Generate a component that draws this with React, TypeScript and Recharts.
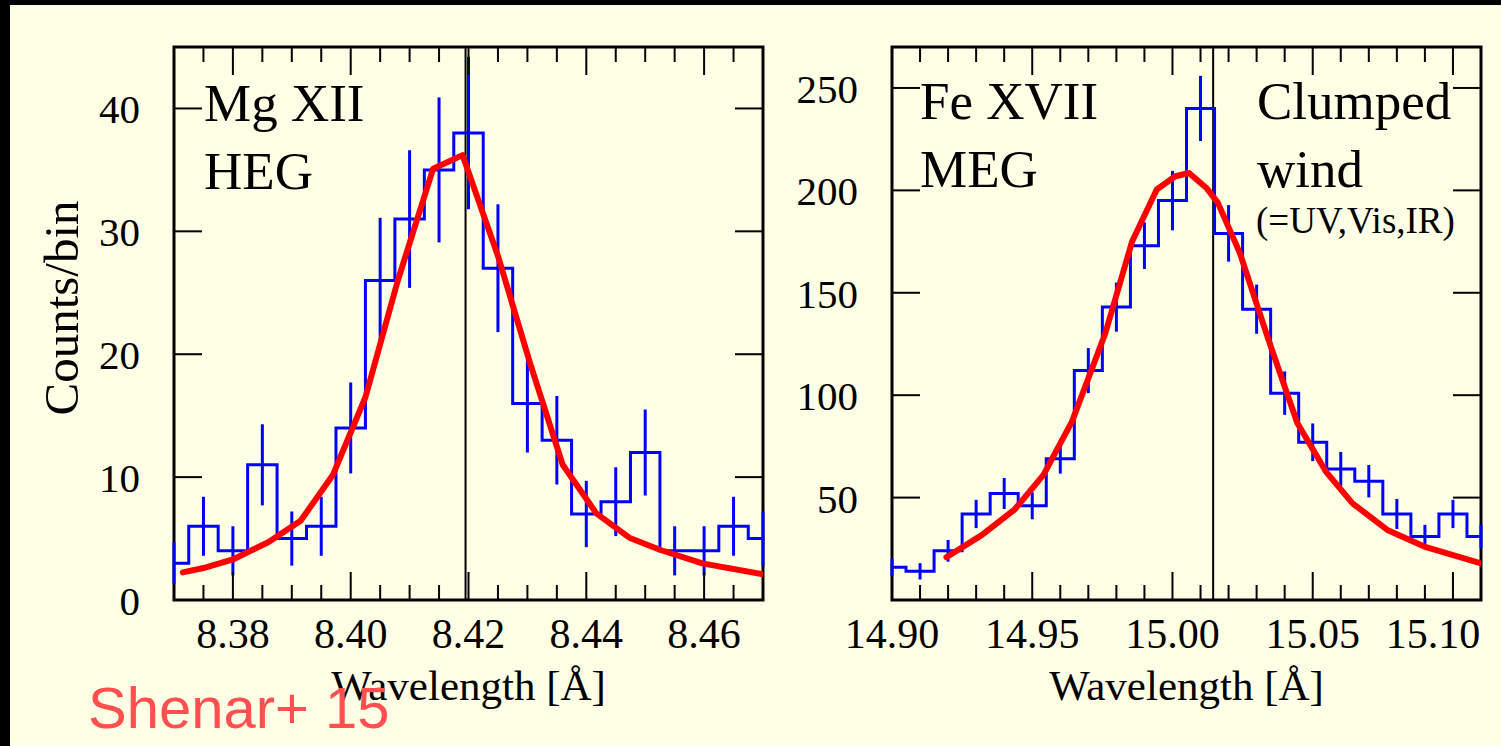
import React from 'react';
import {
  ComposedChart, Line, XAxis, YAxis, ReferenceLine, ReferenceArea, ErrorBar,
} from 'recharts';

const PAGE_W = 1501;
const PAGE_H = 746;
const PLOT_TOP = 47;
const PLOT_BOTTOM = 600;
const SERIF = '"Liberation Serif", "Times New Roman", serif';
const BLUE = '#0000ff';
const RED = '#ff0000';

// Mg XII, HEG: bin centres [Å], counts per bin, 1-sigma errors
const mgWave = [8.370, 8.375, 8.380, 8.385, 8.390, 8.395, 8.400, 8.405, 8.410, 8.415, 8.420,
  8.425, 8.430, 8.435, 8.440, 8.445, 8.450, 8.455, 8.460, 8.465, 8.470];
const mgCounts = [3, 6, 4, 11, 5, 6, 14, 26, 31, 35, 38, 27, 16, 13, 7, 8, 12, 4, 4, 6, 5];
const mgErr = [1.7, 2.4, 2.0, 3.3, 2.2, 2.4, 3.7, 5.1, 5.6, 5.9, 6.2, 5.2, 4.0, 3.6, 2.7, 2.8, 3.5, 2.0, 2.0, 2.4, 2.2];
// clumped wind model
const mgModelWave = [8.3715, 8.375, 8.380, 8.386, 8.3915, 8.397, 8.4025, 8.408, 8.414, 8.419, 8.425,
  8.4305, 8.436, 8.4417, 8.4473, 8.4526, 8.4597, 8.470];
const mgModel = [2.25, 2.6, 3.3, 4.7, 6.45, 10.2, 16.5, 26.0, 35.1, 36.2, 28.0, 19.2, 11.0, 7.05, 5.07, 4.07, 2.98, 2.1];

// Fe XVII, MEG
const feWave = [14.90, 14.91, 14.92, 14.93, 14.94, 14.95, 14.96, 14.97, 14.98, 14.99, 15.00,
  15.01, 15.02, 15.03, 15.04, 15.05, 15.06, 15.07, 15.08, 15.09, 15.10, 15.11];
const feCounts = [16, 14, 24, 42, 52, 46, 69, 112, 143, 173, 195, 240, 179, 142, 101, 77, 64, 58, 42, 31, 42, 31];
const feErr = [4.3, 4.0, 5.3, 6.9, 7.6, 6.6, 7.3, 11.0, 12.0, 11.4, 14.5, 15.9, 13.8, 12.0, 10.6, 9.2, 8.3, 7.9, 7.3, 5.7, 6.9, 5.7];
const feModelWave = [14.9194, 14.9321, 14.9438, 14.954, 14.9642, 14.976, 14.9856, 14.9944, 15.001, 15.0059,
  15.0121, 15.0162, 15.024, 15.034, 15.0445, 15.0547, 15.0642, 15.0766, 15.0898, 15.11];
const feModel = [20.9, 31.8, 44.3, 61.1, 87.2, 130, 175, 200.4, 206.9, 208.5, 201.2, 193.9, 169.5, 128, 86.4, 62.7,
  47.2, 34.2, 26.1, 17.9];

// axis ticks
const mgTicks = [8.375, 8.380, 8.385, 8.390, 8.395, 8.400, 8.405, 8.410, 8.415, 8.420, 8.425, 8.430,
  8.435, 8.440, 8.445, 8.450, 8.455, 8.460, 8.465];
const mgMajor = [8.38, 8.40, 8.42, 8.44, 8.46];
const mgLabels = ['8.38', '8.40', '8.42', '8.44', '8.46'];
const mgYTicks = [0, 10, 20, 30, 40];

const feTicks = [14.91, 14.92, 14.93, 14.94, 14.95, 14.96, 14.97, 14.98, 14.99, 15.00, 15.01, 15.02,
  15.03, 15.04, 15.05, 15.06, 15.07, 15.08, 15.09, 15.10];
const feMajor = [14.90, 14.95, 15.00, 15.05, 15.10];
const feLabels = ['14.90', '14.95', '15.00', '15.05', '15.10'];
const feYTicks = [50, 100, 150, 200, 250];

interface PanelProps {
  left: number;
  right: number;
  xDomain: [number, number];
  yDomain: [number, number];
  xTicks: number[];
  xMajor: number[];
  xLabels: string[];
  yTicks: number[];
  lineAt: number;
  wave: number[];
  counts: number[];
  err: number[];
  modelWave: number[];
  model: number[];
  yTitle?: string;
}

const tickStroke = { stroke: '#000', strokeWidth: 2 };

function Panel(p: PanelProps) {
  const hist = p.wave.map((x, i) => ({ x, y: p.counts[i], err: p.err[i] }));
  const fit = p.modelWave.map((x, i) => ({ x, y: p.model[i] }));
  const xt = [p.xDomain[0], ...p.xTicks, p.xDomain[1]];

  const XTick = (props: any) => {
    const { x, y, payload } = props;
    const v = payload.value;
    const idx = p.xMajor.findIndex(m => Math.abs(m - v) < 1e-9);
    const len = idx >= 0 ? 28 : 15;
    const label = idx >= 0 ? p.xLabels[idx] : null;
    const edge = Math.abs(v - p.xDomain[0]) < 1e-9 || Math.abs(v - p.xDomain[1]) < 1e-9;
    return (
      <g>
        {!edge && <line x1={x} x2={x} y1={y} y2={y - len} {...tickStroke} />}
        {!edge && <line x1={x} x2={x} y1={PLOT_TOP} y2={PLOT_TOP + len} {...tickStroke} />}
        {label && (
          <text x={Math.min(x, p.right - 48)} y={y + 48} textAnchor="middle"
            fontFamily={SERIF} fontSize={42} fill="#000">{label}</text>
        )}
      </g>
    );
  };

  const YTick = (props: any) => {
    const { x, y, payload } = props;
    return (
      <g>
        <line x1={x} x2={x + 28} y1={y} y2={y} {...tickStroke} />
        <line x1={p.right - 28} x2={p.right} y1={y} y2={y} {...tickStroke} />
        <text x={x - 34} y={y + 15} textAnchor="end" fontFamily={SERIF} fontSize={41} fill="#000">
          {payload.value}
        </text>
      </g>
    );
  };

  const XTitle = (props: any) => {
    const vb = props.viewBox;
    return (
      <text x={vb.x + vb.width / 2} y={PLOT_BOTTOM + 100} textAnchor="middle"
        fontFamily={SERIF} fontSize={43} fill="#000">Wavelength [Å]</text>
    );
  };

  const YTitle = () => (
    <text transform="translate(78,308) rotate(-90)" textAnchor="middle"
      fontFamily={SERIF} fontSize={49} fill="#000">{p.yTitle}</text>
  );

  return (
    <div style={{ position: 'absolute', left: 0, top: 0 }}>
      <ComposedChart
        width={PAGE_W}
        height={PAGE_H}
        margin={{ top: PLOT_TOP, right: PAGE_W - p.right, bottom: 46, left: p.left - 140 }}
      >
        <XAxis
          dataKey="x"
          type="number"
          domain={p.xDomain}
          allowDataOverflow
          ticks={xt}
          interval={0}
          tick={<XTick />}
          tickSize={0}
          tickMargin={0}
          tickLine={false}
          axisLine={false}
          height={100}
          label={<XTitle />}
        />
        <YAxis
          type="number"
          domain={p.yDomain}
          allowDataOverflow
          ticks={p.yTicks}
          interval={0}
          tick={<YTick />}
          tickSize={0}
          tickMargin={0}
          tickLine={false}
          axisLine={false}
          width={140}
          label={p.yTitle ? <YTitle /> : undefined}
        />
        <ReferenceLine x={p.lineAt} stroke="#000" strokeWidth={2} />
        <Line
          data={hist}
          dataKey="y"
          type="step"
          stroke={BLUE}
          strokeWidth={3}
          dot={false}
          isAnimationActive={false}
        >
          <ErrorBar dataKey="err" direction="y" width={0} stroke={BLUE} strokeWidth={3} isAnimationActive={false} />
        </Line>
        <Line
          data={fit}
          dataKey="y"
          type="linear"
          stroke={RED}
          strokeWidth={6}
          strokeLinejoin="round"
          strokeLinecap="round"
          dot={false}
          isAnimationActive={false}
        />
        <ReferenceArea
          x1={p.xDomain[0]} x2={p.xDomain[1]} y1={p.yDomain[0]} y2={p.yDomain[1]}
          fill="none" fillOpacity={0} stroke="#000" strokeWidth={3} ifOverflow="visible"
        />
      </ComposedChart>
    </div>
  );
}

export default function App() {
  const big = { fontFamily: SERIF, fontSize: 53, fill: '#000' };
  return (
    <div style={{ position: 'fixed', left: 0, top: 0, width: PAGE_W, height: PAGE_H, background: '#000', overflow: 'hidden' }}>
      <div style={{ position: 'absolute', left: 10, top: 5, right: 0, bottom: 0, background: '#ffffe6' }} />
      <Panel
        left={174} right={763}
        xDomain={[8.37, 8.47]} yDomain={[0, 45]}
        xTicks={mgTicks} xMajor={mgMajor} xLabels={mgLabels} yTicks={mgYTicks}
        lineAt={8.4195}
        wave={mgWave} counts={mgCounts} err={mgErr} modelWave={mgModelWave} model={mgModel}
        yTitle="Counts/bin"
      />
      <Panel
        left={892} right={1481}
        xDomain={[14.90, 15.11]} yDomain={[0, 270]}
        xTicks={feTicks} xMajor={feMajor} xLabels={feLabels} yTicks={feYTicks}
        lineAt={15.0145}
        wave={feWave} counts={feCounts} err={feErr} modelWave={feModelWave} model={feModel}
      />
      <svg width={PAGE_W} height={PAGE_H} style={{ position: 'absolute', left: 0, top: 0, pointerEvents: 'none' }}>
        <text x={204} y={121} {...big}>Mg XII</text>
        <text x={204} y={189} {...big}>HEG</text>
        <text x={920} y={119} {...big}>Fe XVII</text>
        <text x={920} y={187} {...big}>MEG</text>
        <text x={1257} y={119} {...big}>Clumped</text>
        <text x={1257} y={187} {...big}>wind</text>
        <text x={1256} y={233} fontFamily={SERIF} fontSize={37} fill="#000">(=UV,Vis,IR)</text>
        <text x={88} y={728} fontFamily='"Liberation Sans", Arial, sans-serif' fontSize={58} fill="#ff4f4f">Shenar+ 15</text>
      </svg>
    </div>
  );
}
